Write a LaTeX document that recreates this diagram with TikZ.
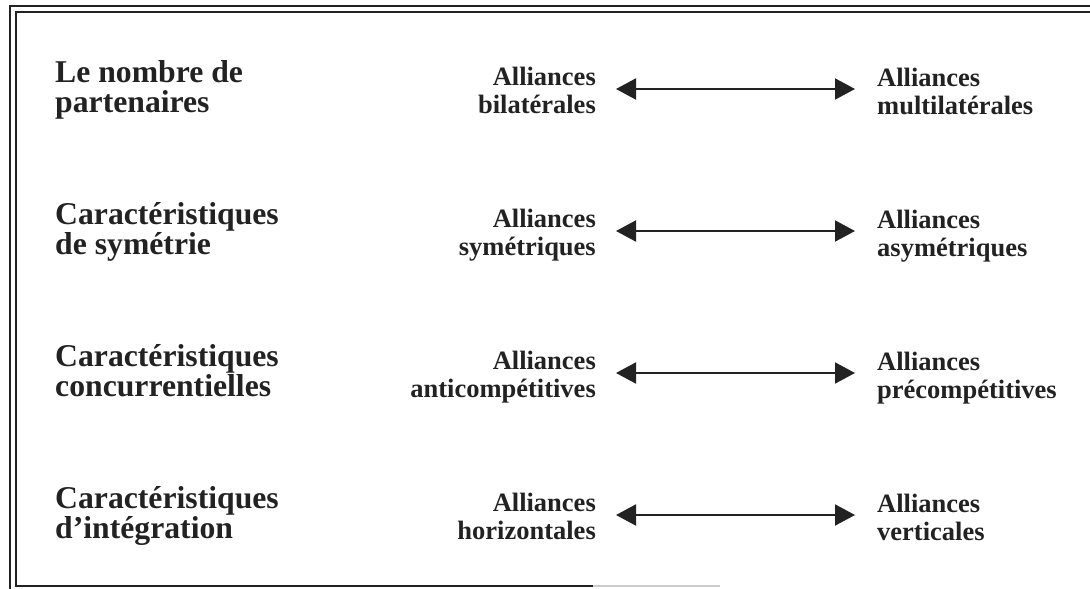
\documentclass[tikz,border=0pt]{standalone}
\usepackage{fontspec}
\setmainfont{Liberation Serif}
\usetikzlibrary{arrows.meta}
\definecolor{ink}{HTML}{222222}
\begin{document}
\begin{tikzpicture}[x=1pt,y=-1pt,
  criterion/.style={anchor=base west,inner sep=0pt,align=left,
    font=\fontsize{31.7}{30}\selectfont\bfseries,text=ink},
  pole/.style={inner sep=0pt,font=\fontsize{26.5}{28}\selectfont\bfseries,text=ink},
  leftpole/.style={pole,anchor=base east,align=right},
  rightpole/.style={pole,anchor=base west,align=left},
  spectrum/.style={ink,line width=2pt,
    {Triangle[length=20pt,width=21pt]}-{Triangle[length=20pt,width=21pt]},
    shorten <=20pt,shorten >=22pt},
  frame/.style={ink,line width=1.8pt}]
\useasboundingbox (0,0) rectangle (1090,589);

% double rule along the top and left, single rule at the bottom
\draw[frame] (1090,6) -- (10,6) -- (10,589);
\draw[frame] (1090,12) -- (16,12) -- (16,586) -- (593,586);
\draw[frame,black!20] (593,586) -- (720,586);

% nodes are placed by the baseline of their second line
% row 1
\node[criterion] (k1) at (55,112) {Le nombre de\\partenaires};
\node[leftpole]  (a1) at (596,113) {Alliances\\bilatérales};
\node[rightpole] (b1) at (877,114) {Alliances\\multilatérales};
\coordinate (y1) at (0,89);
\draw[spectrum] (a1.east |- y1) -- (b1.west |- y1);

% row 2
\node[criterion] (k2) at (55,254) {Caractéristiques\\de symétrie};
\node[leftpole]  (a2) at (596,255) {Alliances\\symétriques};
\node[rightpole] (b2) at (877,256) {Alliances\\asymétriques};
\coordinate (y2) at (0,231);
\draw[spectrum] (a2.east |- y2) -- (b2.west |- y2);

% row 3
\node[criterion] (k3) at (55,396) {Caractéristiques\\concurrentielles};
\node[leftpole]  (a3) at (596,397) {Alliances\\anticompétitives};
\node[rightpole] (b3) at (877,398) {Alliances\\précompétitives};
\coordinate (y3) at (0,373);
\draw[spectrum] (a3.east |- y3) -- (b3.west |- y3);

% row 4
\node[criterion] (k4) at (55,538) {Caractéristiques\\d’intégration};
\node[leftpole]  (a4) at (596,539) {Alliances\\horizontales};
\node[rightpole] (b4) at (877,540) {Alliances\\verticales};
\coordinate (y4) at (0,515);
\draw[spectrum] (a4.east |- y4) -- (b4.west |- y4);
\end{tikzpicture}
\end{document}
